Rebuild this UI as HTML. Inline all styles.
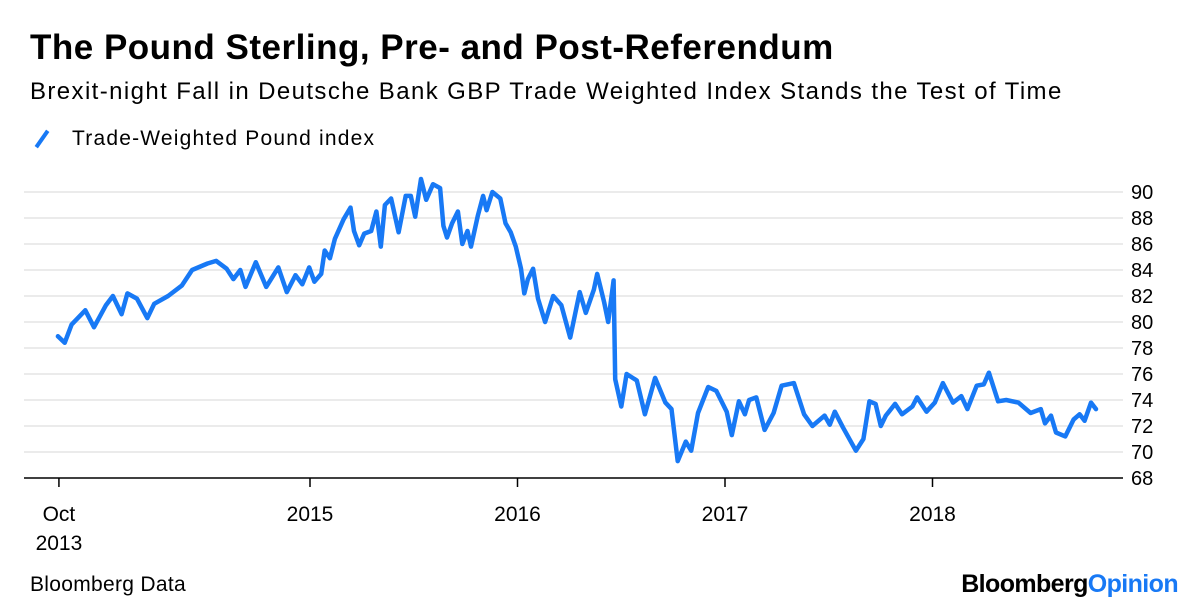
<!DOCTYPE html>
<html><head><meta charset="utf-8">
<style>
body{margin:0;background:#fff;font-family:"Liberation Sans",sans-serif;width:1200px;height:612px;overflow:hidden;position:relative}
.t{position:absolute;white-space:nowrap;color:#000}
</style></head>
<body>
<div class="t" style="left:30px;top:28px;font-size:35px;font-weight:bold;letter-spacing:0.5px">The Pound Sterling, Pre- and Post-Referendum</div>
<div class="t" style="left:30px;top:78px;font-size:24px;letter-spacing:1.4px">Brexit-night Fall in Deutsche Bank GBP Trade Weighted Index Stands the Test of Time</div>
<div class="t" style="left:44px;top:127px;font-size:21px;letter-spacing:1.2px"><span style="position:absolute;left:-4px;top:2px;width:4px;height:20px;background:#1879f5;transform:rotate(35deg)"></span><span style="margin-left:28px">Trade-Weighted Pound index</span></div>
<svg id="chart" width="1200" height="612" style="position:absolute;left:0;top:0"></svg>
<div class="t" style="left:30px;top:573px;font-size:21px;letter-spacing:0.3px">Bloomberg Data</div>
<div class="t" style="right:22px;top:570px;font-size:25px;font-weight:bold;letter-spacing:-0.6px">Bloomberg<span style="color:#1879f5">Opinion</span></div>
<script>
const yTicks=[68,70,72,74,76,78,80,82,84,86,88,90];
const xTickYears=[2013.79,2015,2016,2017,2018];
const xTickLabels=["Oct","2015","2016","2017","2018"];
const dates=[2013.785,2013.818,2013.851,2013.917,2013.959,2014.017,2014.050,2014.092,2014.120,2014.166,2014.216,2014.249,2014.316,2014.382,2014.432,2014.506,2014.548,2014.598,2014.631,2014.664,2014.689,2014.739,2014.789,2014.847,2014.888,2014.930,2014.963,2014.996,2015.021,2015.054,2015.071,2015.096,2015.120,2015.162,2015.195,2015.212,2015.237,2015.261,2015.295,2015.320,2015.341,2015.361,2015.391,2015.427,2015.461,2015.486,2015.507,2015.535,2015.560,2015.593,2015.627,2015.643,2015.660,2015.685,2015.713,2015.734,2015.759,2015.776,2015.809,2015.834,2015.851,2015.879,2015.917,2015.942,2015.967,2015.992,2016.017,2016.033,2016.050,2016.075,2016.099,2016.133,2016.172,2016.211,2016.254,2016.300,2016.329,2016.368,2016.384,2016.418,2016.437,2016.463,2016.471,2016.500,2016.526,2016.575,2016.614,2016.663,2016.713,2016.742,2016.772,2016.811,2016.837,2016.870,2016.919,2016.958,2017.008,2017.033,2017.067,2017.096,2017.116,2017.151,2017.191,2017.234,2017.273,2017.332,2017.381,2017.421,2017.480,2017.505,2017.529,2017.568,2017.631,2017.667,2017.696,2017.726,2017.751,2017.775,2017.820,2017.853,2017.903,2017.926,2017.971,2018.011,2018.050,2018.099,2018.139,2018.168,2018.213,2018.247,2018.272,2018.316,2018.355,2018.414,2018.473,2018.522,2018.542,2018.571,2018.595,2018.640,2018.680,2018.709,2018.733,2018.764,2018.788];
const values=[78.9,78.4,79.8,80.9,79.6,81.3,82.0,80.6,82.2,81.8,80.3,81.4,82.0,82.8,84.0,84.5,84.7,84.1,83.3,84.0,82.7,84.6,82.7,84.2,82.3,83.6,82.9,84.2,83.1,83.7,85.5,84.9,86.4,87.9,88.8,87.0,85.9,86.8,87.0,88.5,85.8,89.0,89.5,86.9,89.7,89.7,88.1,91.0,89.4,90.6,90.3,87.4,86.5,87.6,88.5,86.0,87.0,85.8,88.2,89.7,88.6,90.0,89.5,87.6,86.9,85.8,84.1,82.2,83.3,84.1,81.8,80.0,82.0,81.3,78.8,82.3,80.7,82.5,83.7,81.5,80.0,83.2,75.6,73.5,76.0,75.5,72.9,75.7,73.8,73.3,69.3,70.8,70.1,73.0,75.0,74.7,73.1,71.3,73.9,72.9,74.0,74.2,71.7,73.0,75.1,75.3,72.9,72.0,72.8,72.1,73.1,71.9,70.1,71.0,73.9,73.7,72.0,72.8,73.7,72.9,73.5,74.2,73.1,73.8,75.3,73.8,74.3,73.3,75.1,75.2,76.1,73.9,74.0,73.8,73.0,73.3,72.2,72.8,71.5,71.2,72.5,72.9,72.4,73.8,73.3];
const NS="http://www.w3.org/2000/svg";
const svg=document.getElementById('chart');
const X0=24,X1=1123;
function xs(t){return 310+(t-2015)*207.5;}
function ys(v){return 478-(v-68)*13;}
function mk(tag,attrs){const e=document.createElementNS(NS,tag);for(const k in attrs)e.setAttribute(k,attrs[k]);svg.appendChild(e);return e;}
yTicks.forEach(v=>{
  if(v>68){const g=mk('line',{x1:X0,x2:X1,y1:ys(v),y2:ys(v),stroke:'#ebebeb','stroke-width':2});
  
  }
  const t=mk('text',{x:1131,y:ys(v)+7,'font-size':20,'font-family':'Liberation Sans, sans-serif',fill:'#000'});
  t.textContent=v;
  
  
});
const ax=mk('line',{x1:X0,x2:X1,y1:478,y2:478,stroke:'#000','stroke-width':1.5});


xTickYears.forEach((t,i)=>{
  const tk=mk('line',{x1:xs(t),x2:xs(t),y1:478,y2:487,stroke:'#000','stroke-width':1.5});
  
  
  const l=mk('text',{x:xs(t),y:521,'font-size':21,'text-anchor':'middle','font-family':'Liberation Sans, sans-serif'});
  l.textContent=xTickLabels[i];
  
  
});
const yr=mk('text',{x:xs(xTickYears[0]),y:550,'font-size':21,'text-anchor':'middle','font-family':'Liberation Sans, sans-serif'});
yr.textContent='2013';


const d=dates.map((t,i)=>(i?'L':'M')+xs(t).toFixed(1)+','+ys(values[i]).toFixed(1)).join(' ');
const p=mk('path',{d:d,fill:'none',stroke:'#1879f5','stroke-width':4.5,'stroke-linejoin':'round','stroke-linecap':'round'});


</script>
</body></html>
